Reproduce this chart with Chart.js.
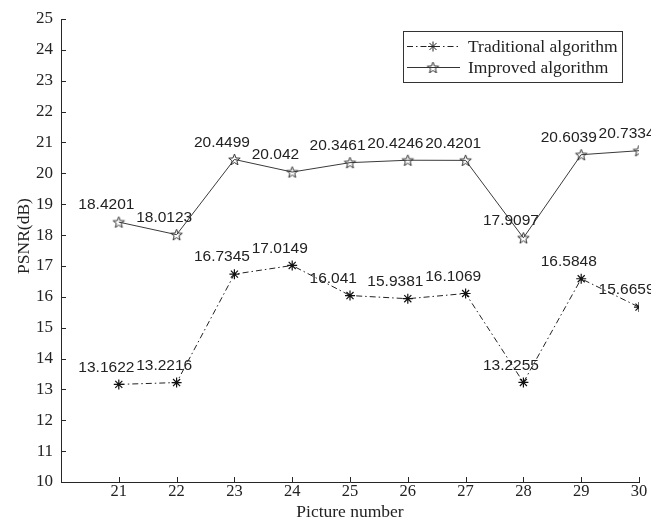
<!DOCTYPE html>
<html>
<head>
<meta charset="utf-8">
<script src="https://cdn.jsdelivr.net/npm/chart.js@4/dist/chart.umd.min.js"></script>
<style>
  html, body { margin: 0; padding: 0; background: #fff; }
</style>
</head>
<body>
<canvas id="myChart" width="651" height="521"></canvas>
<script>
// data
const pictureNumbers = [21, 22, 23, 24, 25, 26, 27, 28, 29, 30];
const traditional = [13.1622, 13.2216, 16.7345, 17.0149, 16.041, 15.9381, 16.1069, 13.2255, 16.5848, 15.6659];
const improved = [18.4201, 18.0123, 20.4499, 20.042, 20.3461, 20.4246, 20.4201, 17.9097, 20.6039, 20.7334];
const seriesNames = ["Traditional algorithm", "Improved algorithm"];

const axisColor = "#262626";
const serif = "'Liberation Serif', 'Times New Roman', serif";
const sans = "'Liberation Sans', Arial, sans-serif";

// hollow five-point star marker (MATLAB 'p')
function makePentagram(r, color) {
  const size = Math.ceil(r * 2 + 3);
  const c = document.createElement("canvas");
  c.width = c.height = size;
  const g = c.getContext("2d");
  const cx = size / 2, cy = size / 2 + 0.5, ri = r * 0.42;
  g.beginPath();
  for (let i = 0; i < 10; i++) {
    const rad = i % 2 ? ri : r;
    const a = -Math.PI / 2 + i * Math.PI / 5;
    g.lineTo(cx + rad * Math.cos(a), cy + rad * Math.sin(a));
  }
  g.closePath();
  g.strokeStyle = color;
  g.lineWidth = 1;
  g.stroke();
  return c;
}
const starImg = makePentagram(6, "#333");

function drawAsterisk(ctx, x, y, r) {
  ctx.beginPath();
  for (let i = 0; i < 4; i++) {
    const a = i * Math.PI / 4;
    ctx.moveTo(x - r * Math.cos(a), y - r * Math.sin(a));
    ctx.lineTo(x + r * Math.cos(a), y + r * Math.sin(a));
  }
  ctx.stroke();
}

const extras = {
  id: "extras",
  afterDraw(chart) {
    const ctx = chart.ctx;
    const xs = chart.scales.x, ys = chart.scales.y;
    const area = chart.chartArea;
    ctx.save();

    // inward ticks
    ctx.strokeStyle = axisColor;
    ctx.lineWidth = 1;
    ctx.beginPath();
    ys.ticks.forEach(t => {
      const py = Math.round(ys.getPixelForValue(t.value)) + 0.5;
      ctx.moveTo(area.left, py);
      ctx.lineTo(area.left + 5, py);
    });
    xs.ticks.forEach(t => {
      const px = Math.round(xs.getPixelForValue(t.value)) + 0.5;
      ctx.moveTo(px, area.bottom);
      ctx.lineTo(px, area.bottom - 5);
    });
    ctx.stroke();

    // value labels
    ctx.fillStyle = "#222";
    ctx.font = "15.5px " + sans;
    ctx.textAlign = "left";
    ctx.textBaseline = "middle";
    [traditional, improved].forEach(vals => {
      vals.forEach((v, i) => {
        const px = xs.getPixelForValue(pictureNumbers[i] - 0.7);
        const py = ys.getPixelForValue(v + 0.55);
        ctx.fillText(String(v), px, py);
      });
    });

    // y axis title
    ctx.save();
    ctx.translate(24, 236);
    ctx.rotate(-Math.PI / 2);
    ctx.textAlign = "center";
    ctx.font = "17.5px " + serif;
    ctx.fillStyle = "#222";
    ctx.fillText("PSNR(dB)", 0, 0);
    ctx.restore();

    // legend
    ctx.fillStyle = "#fff";
    ctx.fillRect(403, 31, 219, 51);
    ctx.strokeStyle = "#333";
    ctx.strokeRect(403.5, 31.5, 219, 51);
    ctx.font = "17.5px " + serif;
    ctx.fillStyle = "#222";
    ctx.textAlign = "left";

    ctx.strokeStyle = "#222";
    ctx.setLineDash([6, 3, 1.5, 3]);
    ctx.beginPath();
    ctx.moveTo(407, 46.5);
    ctx.lineTo(460, 46.5);
    ctx.stroke();
    ctx.setLineDash([]);
    drawAsterisk(ctx, 433, 46.5, 5);
    ctx.fillText(seriesNames[0], 468, 47);

    ctx.strokeStyle = "#333";
    ctx.beginPath();
    ctx.moveTo(407, 67.5);
    ctx.lineTo(460, 67.5);
    ctx.stroke();
    ctx.drawImage(starImg, 433 - starImg.width / 2, 67.5 - starImg.height / 2);
    ctx.fillText(seriesNames[1], 468, 68);

    ctx.restore();
  }
};

new Chart("myChart", {
  type: "line",
  data: {
    datasets: [
      {
        label: seriesNames[0],
        data: pictureNumbers.map((x, i) => ({ x: x, y: traditional[i] })),
        borderColor: "#222",
        borderWidth: 1,
        borderDash: [6, 3, 1.5, 3],
        pointStyle: "star",
        pointRadius: 5,
        pointBorderColor: "#111",
        pointBorderWidth: 1.2,
        fill: false,
        tension: 0
      },
      {
        label: seriesNames[1],
        data: pictureNumbers.map((x, i) => ({ x: x, y: improved[i] })),
        borderColor: "#3a3a3a",
        borderWidth: 1,
        pointStyle: starImg,
        pointRadius: 6,
        fill: false,
        tension: 0
      }
    ]
  },
  options: {
    responsive: false,
    animation: false,
    layout: { padding: { top: 19, right: 12, left: 0, bottom: 0 } },
    plugins: {
      legend: { display: false },
      tooltip: { enabled: false }
    },
    scales: {
      x: {
        type: "linear",
        min: 20,
        max: 30,
        afterBuildTicks: s => { s.ticks = pictureNumbers.map(v => ({ value: v })); },
        afterFit: s => { s.height = 39; },
        grid: { display: true, drawOnChartArea: false, drawTicks: false },
        border: { display: true, color: axisColor, width: 1 },
        ticks: { padding: 0, color: "#222", font: { family: serif, size: 16.5 } },
        title: { display: true, text: "Picture number", color: "#222", padding: 0, font: { family: serif, size: 17.5, lineHeight: 1 } }
      },
      y: {
        min: 10,
        max: 25,
        ticks: { stepSize: 1, padding: 8, color: "#222", font: { family: serif, size: 17 } },
        afterFit: s => { s.width = 61; },
        grid: { display: true, drawOnChartArea: false, drawTicks: false },
        border: { display: true, color: axisColor, width: 1 }
      }
    }
  },
  plugins: [extras]
});
</script>
</body>
</html>
